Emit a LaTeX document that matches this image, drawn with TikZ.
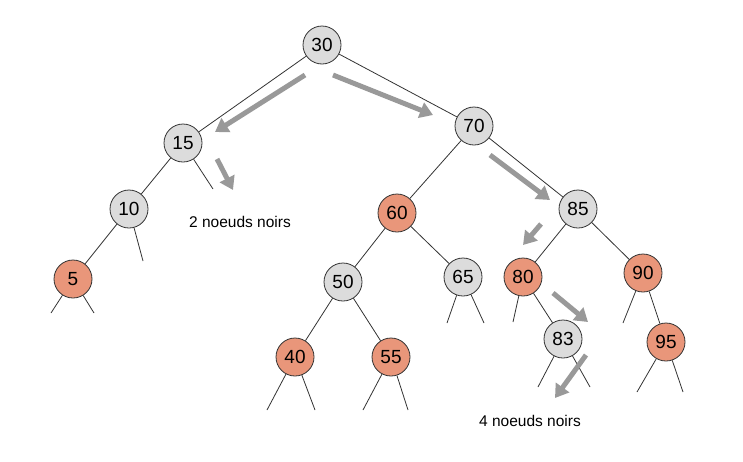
\documentclass[tikz,border=0pt]{standalone}
\usepackage{fontspec}
\setmainfont{Liberation Sans}
\usepackage{tikz}
\usetikzlibrary{arrows.meta,positioning}
\definecolor{NodeGray}{HTML}{DCDCDC}
\definecolor{NodeRed}{HTML}{E9967A}
\definecolor{PathGray}{HTML}{999999}
\definecolor{EdgeDark}{HTML}{333333}
\tikzset{
  blacknode/.style={circle,draw=EdgeDark,line width=0.8pt,fill=NodeGray,minimum size=38pt,inner sep=0pt,font=\fontsize{19}{21}\selectfont},
  rednode/.style={circle,draw=EdgeDark,line width=0.8pt,fill=NodeRed,minimum size=38pt,inner sep=0pt,font=\fontsize{19}{21}\selectfont},
  edge/.style={draw=EdgeDark,line width=0.8pt},
  walk/.style={-{Triangle[length=13pt,width=16pt]},line width=5pt,color=PathGray},
  note/.style={font=\fontsize{15.5}{18}\selectfont},
}

\begin{document}
\begin{tikzpicture}[x=1pt,y=-1pt]
  \useasboundingbox (0,0) rectangle (743,461);

  % Tree nodes
  \node[blacknode] (n30) at (322,45) {30};
  \node[blacknode] (n15) at (183,143) {15};
  \node[blacknode] (n70) at (474,126) {70};
  \node[blacknode] (n10) at (129,209) {10};
  \node[rednode] (n5) at (73,279) {5};
  \node[rednode] (n60) at (397,213) {60};
  \node[blacknode] (n85) at (578,209) {85};
  \node[blacknode] (n50) at (343,282) {50};
  \node[blacknode] (n65) at (463,277) {65};
  \node[rednode] (n80) at (523,277) {80};
  \node[rednode] (n90) at (643,273) {90};
  \node[rednode] (n40) at (295,357) {40};
  \node[rednode] (n55) at (391,357) {55};
  \node[blacknode] (n83) at (563,339) {83};
  \node[rednode] (n95) at (666,342) {95};

  % Leaf ends
  \coordinate (l15r) at (213,189);
  \coordinate (l10r) at (143,261);
  \coordinate (l5l) at (51,313);
  \coordinate (l5r) at (94,313);
  \coordinate (l65l) at (447,323);
  \coordinate (l65r) at (484,323);
  \coordinate (l40l) at (267,410);
  \coordinate (l40r) at (315,410);
  \coordinate (l55l) at (363,410);
  \coordinate (l55r) at (408,410);
  \coordinate (l80l) at (513,322);
  \coordinate (l90l) at (623,323);
  \coordinate (l83l) at (538,387);
  \coordinate (l83r) at (590,387);
  \coordinate (l95l) at (637,392);
  \coordinate (l95r) at (683,392);

  % Tree edges
  \draw[edge] (n30) -- (n15);
  \draw[edge] (n30) -- (n70);
  \draw[edge] (n15) -- (n10);
  \draw[edge] (n10) -- (n5);
  \draw[edge] (n70) -- (n60);
  \draw[edge] (n70) -- (n85);
  \draw[edge] (n60) -- (n50);
  \draw[edge] (n60) -- (n65);
  \draw[edge] (n50) -- (n40);
  \draw[edge] (n50) -- (n55);
  \draw[edge] (n85) -- (n80);
  \draw[edge] (n85) -- (n90);
  \draw[edge] (n80) -- (n83);
  \draw[edge] (n90) -- (n95);
  \draw[edge] (n15) -- (l15r);
  \draw[edge] (n10) -- (l10r);
  \draw[edge] (n5) -- (l5l);
  \draw[edge] (n5) -- (l5r);
  \draw[edge] (n65) -- (l65l);
  \draw[edge] (n65) -- (l65r);
  \draw[edge] (n40) -- (l40l);
  \draw[edge] (n40) -- (l40r);
  \draw[edge] (n55) -- (l55l);
  \draw[edge] (n55) -- (l55r);
  \draw[edge] (n80) -- (l80l);
  \draw[edge] (n90) -- (l90l);
  \draw[edge] (n83) -- (l83l);
  \draw[edge] (n83) -- (l83r);
  \draw[edge] (n95) -- (l95l);
  \draw[edge] (n95) -- (l95r);

  % Black-height labels
  \node[note] (two) at (240,222) {2 noeuds noirs};
  \node[note] (four) at (530,421) {4 noeuds noirs};

  % Walk arrows
  \coordinate (a1s) at (305,75);  \coordinate (a1e) at (215,132);
  \coordinate (a2s) at (333,75);  \coordinate (a2e) at (433,115);
  \coordinate (a3s) at (217,159); \coordinate (a3e) at (233,190);
  \coordinate (a4s) at (490,155); \coordinate (a4e) at (550,200);
  \coordinate (a5s) at (541,224); \coordinate (a5e) at (523,245);
  \coordinate (a6s) at (553,293); \coordinate (a6e) at (588,322);
  \coordinate (a7s) at (586,355); \coordinate (a7e) at (555,398);
  \draw[walk] (a1s) -- (a1e);
  \draw[walk] (a2s) -- (a2e);
  \draw[walk] (a3s) -- (a3e);
  \draw[walk] (a4s) -- (a4e);
  \draw[walk] (a5s) -- (a5e);
  \draw[walk] (a6s) -- (a6e);
  \draw[walk] (a7s) -- (a7e);

\end{tikzpicture}
\end{document}
